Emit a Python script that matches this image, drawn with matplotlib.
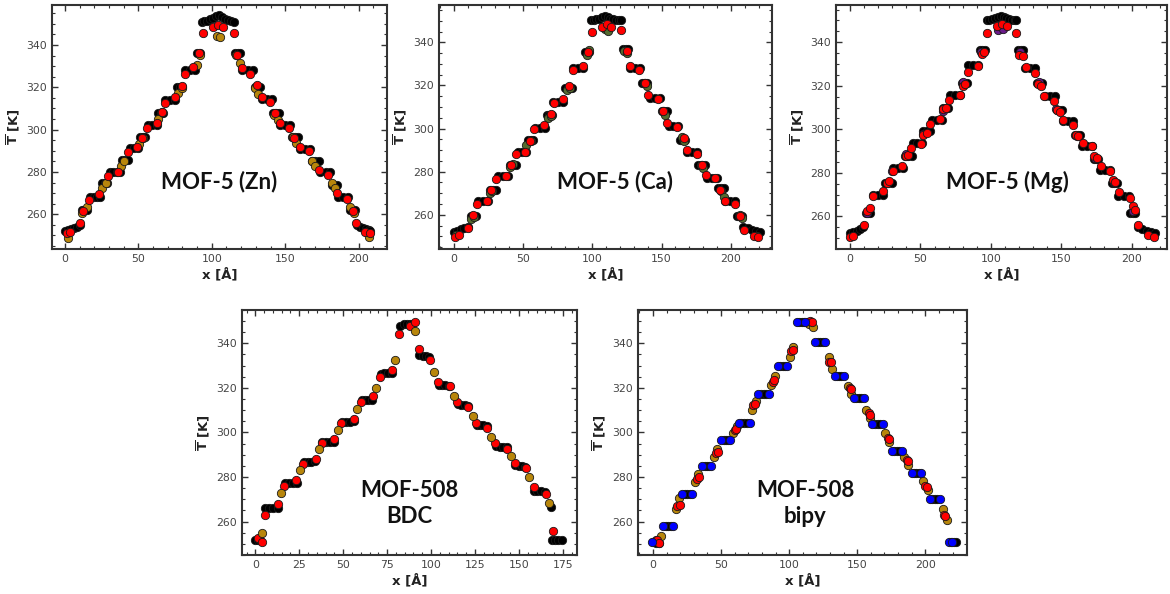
import matplotlib
matplotlib.use("Agg")
import matplotlib.pyplot as plt
from matplotlib.ticker import MultipleLocator

# ---------------- MOF-5 (Zn) ----------------
zn_black_x = [0, 2, 4, 6, 8, 10, 11.4, 13, 14.8, 17, 19.5, 22, 24, 25, 27, 28.4,
              30.7, 33, 35.5, 37.5, 38.6, 41, 43, 44.3, 47, 50, 51, 53, 54.5,
              56.8, 59.5, 62.5, 63.6, 65.5, 67, 68.2, 71.5, 75, 76, 78, 80,
              81.8, 85, 88.6, 89.8, 92,
              93, 95, 97, 99, 101, 103, 105, 107, 109, 111, 113, 115,
              116, 118, 119, 120.5, 124.5, 128.4, 129.5, 131.5, 133, 134, 137.5, 141,
              142, 144, 145.5, 146.6, 150, 153.4, 154.5, 157, 159, 160, 163.5, 167,
              168, 170.5, 172.7, 174, 177.5, 180.7, 181.8, 183.5, 185, 186, 189.5, 193,
              194, 196, 197.7, 199, 201, 203, 205, 207, 208]
zn_black_y = [252, 252.5, 253, 253.6, 254.2, 255, 262, 262, 262, 268.3, 268.3, 268.3, 268.3, 275, 275, 275,
              280.2, 280.2, 280.2, 280.2, 285.7, 285.7, 285.7, 291.2, 291.2, 291.2, 296.7, 296.7, 296.7,
              302.2, 302.2, 302.2, 307.7, 307.7, 307.7, 314, 314, 314, 320.3, 320.3, 320.3,
              328.2, 328.2, 328.2, 336, 336,
              351, 351.5, 351.5, 352.5, 352.8, 353.5, 354, 353, 352.5, 352, 351.5, 351,
              336, 336, 336, 328.2, 328.2, 328.2, 320.3, 320.3, 320.3, 314.3, 314.3, 314.3,
              307.7, 307.7, 307.7, 302.2, 302.2, 302.2, 296.7, 296.7, 296.7, 290.9, 290.9, 290.9,
              285.2, 285.2, 285.2, 279.8, 279.8, 279.8, 273.9, 273.9, 273.9, 268.3, 268.3, 268.3,
              262, 262, 262, 255, 254, 253.5, 253, 252.5, 252]
zn_red_x = [1.1, 3.4, 10.2, 12.5, 16.6, 23.4, 29.5, 36.4, 42.7, 48.9, 52.3, 55.7, 62.5, 66.4, 68.2,
            75, 79.5, 81.8, 87.5, 91.6, 94.3, 101, 104.5, 107.5, 114.8, 117.5, 120.5, 126, 130.7, 134,
            139.8, 143, 146.6, 152.3, 156, 160, 166, 172.7, 179.5, 185, 192, 196, 198.4, 204.5, 208]
zn_red_y = [251, 251.5, 255.7, 261.4, 266.8, 269.6, 278.1, 280.2, 289.6, 292, 296, 301, 303, 308.2, 312.8,
            315.6, 320.8, 326.3, 329.8, 336.4, 345.5, 348.7, 349.4, 348.7, 345.5, 335.3, 329, 326.3, 321, 315.6,
            313.2, 307.7, 303, 301, 296, 292, 290, 281, 278.6, 270, 267.2, 261.7, 256, 251.5, 251]
zn_gold_x = [2.3, 11.4, 15.2, 25, 28, 38, 40.5, 50.7, 53, 63.4, 66.4, 76.8, 79.5, 89.8, 92, 103.4,
             105.7, 116.6, 118.9, 129.5, 131.8, 142.5, 144.8, 155, 157.5, 168.2, 170.5, 181.8, 184,
             194.3, 196.6, 206.8]
zn_gold_y = [249, 260.8, 263.3, 272.3, 274.6, 283, 285.2, 293.2, 296.2, 305, 308.2, 317.2, 319.8, 330.6,
             335.3, 344.3, 343.6, 335.3, 331.3, 319.8, 316.7, 306.9, 304.6, 296.4, 293.5, 285.4, 283,
             274.6, 272.3, 263.6, 260.5, 249.1]

# ---------------- MOF-5 (Ca) ----------------
ca_black_x = [0, 2.5, 5, 7.5, 10, 12.8, 14.6, 16.4, 17.6, 21, 24.8, 26, 28.4, 30.8, 32, 35.6, 39.3,
              40.5, 43, 45.3, 46.5, 49.5, 52.5, 53.7, 55.5, 57.3, 58.6, 62.2, 65.8, 67, 68.8, 70.6,
              71.8, 75.4, 79, 80.2, 82.6, 85, 86.3, 90, 93.5, 94.7, 97.8,
              99, 101, 103, 105, 107, 109, 111, 113, 115, 117, 119, 121,
              122.4, 124, 126, 127.2, 131, 134.5, 135.7, 137.5, 139.3, 141.7, 145.3, 149,
              150, 152, 153.7, 155, 158.5, 162, 163.4, 165.2, 167, 168.2, 171.8, 175.4,
              176.6, 179, 181.4, 182.7, 186.3, 190, 191, 193, 194.7, 196, 199.5, 203,
              204.3, 206, 208, 209, 212, 215, 218, 221]
ca_black_y = [252, 252.5, 253.2, 253.8, 254.5, 259.2, 259.2, 259.2, 266.2, 266.2, 266.2, 271.6, 271.6, 271.6,
              277.8, 277.8, 277.8, 283.2, 283.2, 283.2, 289.3, 289.3, 289.3, 294.7, 294.7, 294.7,
              300.2, 300.2, 300.2, 306.3, 306.3, 306.3, 312.5, 312.5, 312.5, 318.7, 318.7, 318.7,
              328, 328, 328, 335.7, 335.7,
              350.5, 350.5, 350.8, 351, 351.5, 352, 351.5, 351, 350.8, 350.5, 350.5, 350.5,
              336.8, 336.8, 336.8, 328, 328, 328, 321, 321, 321, 314, 314, 314,
              307.9, 307.9, 307.9, 301, 301, 301, 294.7, 294.7, 294.7, 289.3, 289.3, 289.3,
              283.2, 283.2, 283.2, 277, 277, 277, 272.4, 272.4, 272.4, 266.2, 266.2, 266.2,
              259.2, 259.2, 259.2, 254.5, 253.8, 253, 252.5, 252]
ca_red_x = [0.7, 3.6, 10.4, 14, 17.1, 24.1, 27.2, 30.8, 38, 41.7, 44.8, 51.3, 55, 57.8, 65.3, 69.9,
            72.3, 79, 83.4, 85.8, 93, 97.1, 99.5, 107, 110.4, 113.5, 120.5, 124.8, 127.2, 134, 138,
            140.5, 147.7, 150.8, 154.2, 161, 165.8, 168.2, 175.4, 179, 182.2, 188.7, 192.3, 195.9,
            203.1, 206.3, 209.2, 216.4, 219.5]
ca_red_y = [249.7, 250.4, 253.8, 259.7, 265, 266.2, 271.3, 276.5, 277.8, 282.9, 288.3, 289, 294.3,
            299.8, 301.7, 306.8, 311.7, 313.7, 319.8, 327.2, 329, 335.7, 344.9, 346.9, 348.3, 347.3,
            345.7, 336.1, 329, 327.2, 321, 315.6, 313.7, 307.9, 302.5, 300.5, 295.5, 290.1, 288.3,
            283.2, 278.5, 277, 271.6, 266.5, 265, 259.2, 253.1, 250.3, 249.7]
ca_green_x = [1.5, 12.8, 15, 26, 28, 40.5, 42.5, 52.5, 55.5, 68, 70, 82, 84, 95.9, 97.5, 109, 111,
              123, 125.3, 138, 139.3, 151, 152.5, 164.5, 165.8, 178.5, 180.2, 193, 194.7, 206.5, 208, 218.8]
ca_green_y = [250.8, 258.1, 259, 270.3, 271, 282, 283.5, 292.4, 294, 304.8, 306, 317.9, 319, 334.1,
              336.5, 346, 345.4, 336, 334.9, 321, 319.5, 308, 306.3, 296, 294, 283, 281.6, 271, 268.2,
              260, 258.5, 250.3]

# ---------------- MOF-5 (Mg) ----------------
mg_black_x = [0, 2.5, 5, 7.5, 9.5, 11.4, 12.8, 14.2, 16.6, 20, 23.7, 24.9, 27.2, 29.6, 30.8, 34.3, 37.9,
              39, 41.4, 43.8, 44.5, 47.7, 50.9, 52, 54.4, 56.8, 58, 61.5, 65, 66.3, 68, 69.8,
              71, 74.5, 78, 79.3, 81, 82.8, 84, 87.5, 91, 92.3, 94, 95.9,
              97, 99, 101, 103, 105, 107, 109, 111, 113, 115, 117, 118,
              119.5, 121.2, 123, 124, 127.7, 131.4, 132.5, 134.2, 136, 138.5, 142, 145.6,
              146.7, 148.5, 150.3, 151.5, 155, 158.6, 159.8, 161.5, 163.3, 164.5, 168, 171.6,
              172.8, 174.5, 176.3, 177.5, 181, 184.6, 185.8, 187.5, 189.3, 190.5, 194.4, 198.3,
              198.8, 200.6, 202.4, 204.7, 207.5, 210.5, 213.5, 216.6]
mg_black_y = [252.5, 253, 253.5, 254.2, 255, 261.6, 261.6, 261.6, 270, 270, 270, 275.3, 275.3, 275.3,
              282.2, 282.2, 282.2, 287.6, 287.6, 287.6, 293.7, 293.7, 293.7, 299, 299, 299,
              304.4, 304.4, 304.4, 309.7, 309.7, 309.7, 315.8, 315.8, 315.8, 321.2, 321.2, 321.2,
              329.6, 329.6, 329.6, 336.5, 336.5, 336.5,
              350.2, 350.3, 350.5, 351, 351.5, 352, 351.5, 351, 350.5, 350.3, 350.2, 350,
              336.5, 336.5, 336.5, 328, 328, 328, 321.2, 321.2, 321.2, 315.1, 315.1, 315.1,
              309, 309, 309, 303.6, 303.6, 303.6, 297.5, 297.5, 297.5, 292.1, 292.1, 292.1,
              286.3, 286.3, 286.3, 281.4, 281.4, 281.4, 275.3, 275.3, 275.3, 269.2, 269.2, 269.2,
              261.6, 261.6, 261.6, 255, 254, 253.5, 253, 252.5]
mg_red_x = [0, 2.4, 9.9, 12.3, 14.2, 16.6, 23.7, 26.5, 27.9, 30.3, 36.7, 39.8, 41, 43.3, 50.4, 52,
            54.4, 56.8, 63.9, 65.8, 68.2, 70.5, 78.1, 80, 81.7, 84, 91.1, 93.5, 95.1, 97.5, 104.1,
            107.7, 111.2, 117.9, 120.2, 122.6, 125, 131.4, 133.3, 135.6, 137.8, 144.9, 146.7, 149.1,
            151.5, 158.1, 160.5, 162.1, 165.2, 171.6, 173.3, 175.1, 178, 184.6, 186.5, 188.2, 191.2,
            198.8, 200.7, 202.4, 204.7, 211.8, 215.4]
mg_red_y = [250.4, 250.9, 256.2, 262.3, 263.9, 269.2, 271.5, 275.3, 276.1, 280.7, 283.3, 287.6, 288,
            291.4, 293.4, 297.5, 298.3, 302.5, 304.8, 309.3, 309.7, 313.5, 315.7, 320, 320.7, 326.5,
            329.3, 334.5, 335.4, 344.1, 347.5, 348.4, 347.5, 344.1, 334.2, 333.7, 328.8, 325.8, 320.9,
            320, 315.1, 312.8, 309, 307.9, 304.4, 302.1, 297.5, 297, 293.7, 292.1, 287.9, 286.8, 283,
            280.7, 276.9, 275.7, 271, 268.4, 264.6, 263.1, 255.9, 251.3, 250.4]
mg_purple_x = [12, 29.5, 39.5, 52, 65.8, 80.5, 93, 105, 108.5, 121, 134, 146.5, 161, 174, 187, 200.5]
mg_purple_y = [261.5, 281, 288.5, 298, 308.5, 321.5, 335.5, 345.5, 346, 335.5, 321.5, 309.5, 297, 287,
               276, 262.5]

# ---------------- MOF-508 BDC ----------------
bdc_black_x = [0, 1.4, 2.8, 5.7, 8, 10.3, 12.7, 17, 19.2, 21.4, 23.6, 27.5, 29.7, 31.9, 34.1,
               38, 40.2, 42.4, 44.6, 49.3, 51.5, 53.8, 56, 60.7, 62.5, 64.4, 66.2, 71.5, 73.5, 75.6, 77.7,
               82.6, 84.5, 86.4, 88.3, 89.1, 93.3, 95.2, 97.1, 99, 104.3, 106.2, 108.1, 110,
               115.1, 117.2, 119.2, 121.3, 126, 127.9, 129.8, 131.7, 136.9, 139, 141.1, 143.2,
               147.9, 149.8, 151.7, 153.6, 158.3, 160.5, 162.7, 165, 168.5, 168.8, 170.6, 172.5, 174.4]
bdc_black_y = [251.8, 251.8, 251.5, 266, 266, 266, 266.3, 277.1, 277.1, 277.1, 277.3, 286.7, 286.7, 286.7, 287,
               295.5, 295.5, 295.5, 295.7, 304.8, 304.8, 304.8, 305, 314.5, 314.5, 314.5, 314.7,
               326.4, 326.6, 326.6, 326.8, 348, 348.5, 348.7, 348.8, 348.7, 334.6, 334.3, 334.2, 333.8,
               321.5, 321.3, 321.2, 321, 312.6, 312.4, 312.2, 312, 303.5, 303.3, 303.2, 303,
               293.8, 293.6, 293.5, 293.3, 285.2, 285, 284.9, 284.7, 273.9, 273.7, 273.6, 273.4,
               266.7, 251.8, 251.8, 251.7, 251.6]
bdc_red_x = [1.3, 3.8, 5.3, 12.7, 16.5, 23.1, 27.1, 34.5, 37.9, 44.8, 48.9, 56.4, 60.1, 66.7, 71.1,
             77.7, 82, 88.2, 91, 92.9, 99.5, 103.7, 110.8, 114.7, 121.3, 125.7, 132.1, 136.5, 143.2,
             147.5, 154.2, 158.3, 165.4, 169.3]
bdc_red_y = [252.5, 250.7, 263, 267.8, 276, 278.6, 285.7, 288.1, 295.3, 297, 304.4, 306, 313.8, 316.3,
             324.7, 327.9, 344, 348, 349.8, 337.3, 332.6, 322.8, 320.8, 313.5, 311.3, 304.1, 302.1,
             295.1, 292.5, 286.2, 284, 275.7, 272.4, 255.9]
bdc_gold_x = [3.8, 14.6, 25.2, 36.4, 46.8, 57.8, 68.8, 79.6, 91, 101.8, 112.8, 123.6, 134.2, 145.6,
              156, 167.2]
bdc_gold_y = [254.8, 272.7, 283.2, 292.6, 301.1, 310.4, 319.8, 332.5, 345.6, 327.3, 316.4, 307.4, 298.1,
              289.4, 279.9, 268.2]

# ---------------- MOF-508 bipy ----------------
bipy_black_x = [0.5, 2.5, 4.5, 9.5, 11.3, 13.1, 23.3, 25.2, 27, 37.9, 39.5, 41.1, 51.8, 53.4, 55,
                65, 67, 69, 79.3, 81.3, 83.2, 93.5, 95.2, 96.9, 107.3, 109.2, 111.1, 113.1,
                121, 122.8, 124.7, 135, 136.7, 138.3, 149.2, 151, 152.9, 162.8, 164.9, 166.9,
                177.3, 179.2, 181, 191.7, 193.3, 195, 205, 206.8, 208.7, 219, 221, 222.7]
bipy_black_y = [250.7, 250.6, 250.5, 258.2, 258.2, 258.2, 272.3, 272.3, 272.3, 285.1, 285.1, 285.1,
                296.6, 296.6, 296.6, 304.1, 304.1, 304.1, 317.1, 317.1, 317.1, 329.8, 329.8, 329.8,
                349.4, 349.4, 349.4, 349.4, 340.7, 340.7, 340.7, 325.3, 325.3, 325.3,
                315.3, 315.3, 315.3, 303.7, 303.7, 303.7, 291.8, 291.8, 291.8, 281.7, 281.7, 281.7,
                270.1, 270.1, 270.1, 251, 250.8, 250.7]
bipy_red_x = [3.1, 4.3, 17.8, 19.8, 32.5, 33.8, 46.5, 47.8, 59.9, 61, 73.6, 74.6, 88.4, 89.2, 101.6,
              102.5, 115.5, 116.5, 129, 130.9, 144.8, 145.6, 158.4, 159.2, 172.3, 173.2, 186.5, 187.4,
              200, 201, 213.9, 214.8]
bipy_red_y = [251.8, 250.3, 267.2, 267.5, 279.1, 279.8, 290.8, 291.2, 301, 301.6, 312.4, 313, 322.8,
              323.5, 336.4, 337, 349.9, 349.5, 331.8, 331.5, 319.8, 319.3, 308.6, 308, 297.7, 297.2,
              287.6, 287, 275.8, 275.3, 263.1, 262.5]
bipy_gold_x = [1.9, 5.6, 16.6, 19, 30.5, 33.3, 44.8, 47.2, 59, 61.4, 72.4, 75.3, 86.4, 89.4, 100.6,
               103, 114.3, 117.5, 129, 131.4, 142.9, 145.3, 156.4, 159.6, 170.6, 173, 184.6, 187.2,
               198.3, 201.8, 213, 215.8]
bipy_gold_y = [251.8, 253.7, 265.7, 270.5, 277.9, 281.5, 288.9, 292.7, 299.9, 303, 310, 313.9, 321.3,
               325.3, 334, 338.3, 348.5, 347.3, 333.7, 328.6, 321, 317.1, 310.1, 306.4, 299.6, 295.9,
               289.1, 285.4, 278.4, 274.3, 265.7, 260.8]
bipy_blue_x = [-0.5, 7.5, 15, 21.5, 28.9, 36.2, 42.8, 50.2, 56.5, 63, 71, 77.3, 85.2, 91.8, 98.6,
               105.4, 112, 119.2, 126.5, 133.4, 140, 147.4, 154.7, 160.8, 168.9, 175.5, 182.9, 190,
               196.7, 203.2, 210.5, 217.1, 219.5]
bipy_blue_y = [250.7, 258.2, 258.2, 272.3, 272.3, 285.1, 285.1, 296.6, 296.6, 304.1, 304.1, 317.1,
               317.1, 329.8, 329.8, 349.4, 349.4, 340.7, 340.7, 325.3, 325.3, 315.3, 315.3, 303.7,
               303.7, 291.8, 291.8, 281.7, 281.7, 270.1, 270.1, 251, 251]

labels = ["MOF-5 (Zn)", "MOF-5 (Ca)", "MOF-5 (Mg)", "MOF-508\nBDC", "MOF-508\nbipy"]

RED = "#ff0000"
GOLD = "#b8860b"
GREEN = "#556b2f"
PURPLE = "#6a1b8a"
BLUE = "#0000ff"
BLACK = "#000000"

fig = plt.figure(figsize=(11.70, 5.94), dpi=100)

def make_ax(rect, xlim, ylim, xmajor, xminor):
    ax = fig.add_axes(rect)
    ax.set_xlim(*xlim)
    ax.set_ylim(*ylim)
    ax.xaxis.set_major_locator(MultipleLocator(xmajor))
    ax.xaxis.set_minor_locator(MultipleLocator(xminor))
    ax.yaxis.set_major_locator(MultipleLocator(20))
    ax.yaxis.set_minor_locator(MultipleLocator(5))
    ax.tick_params(which="both", direction="in", top=True, right=True,
                   colors="#333333", labelsize=7.8, labelcolor="#444444")
    ax.tick_params(which="major", length=4.5, width=1.0)
    ax.tick_params(which="minor", length=2.4, width=0.8)
    for sp in ax.spines.values():
        sp.set_linewidth(1.5)
        sp.set_color("#333333")
    ax.set_xlabel("x [Å]", fontsize=9.5, fontweight="bold", color="#222222", labelpad=3)
    ax.set_ylabel(r"$\overline{\mathbf{T}}$ [K]", fontsize=9.5, fontweight="bold",
                  color="#222222", labelpad=3)
    return ax

def pts(ax, x, y, color, z):
    ax.scatter(x, y, s=36, c=color, edgecolors="#1a1a1a", linewidths=0.6, zorder=z)

def label(ax, text, x, y):
    ax.text(x, y, text, transform=ax.transAxes, ha="center", va="center",
            fontsize=16, fontweight="bold", family=["Lato", "DejaVu Sans"],
            color="#111111", linespacing=1.25)

# Top row
ax1 = make_ax([0.0444, 0.5808, 0.2863, 0.4108], (-8.9, 219.3), (243.6, 358.9), 50, 10)
pts(ax1, zn_black_x, zn_black_y, BLACK, 2)
pts(ax1, zn_gold_x, zn_gold_y, GOLD, 3)
pts(ax1, zn_red_x, zn_red_y, RED, 4)
label(ax1, labels[0], 0.50, 0.275)

ax2 = make_ax([0.3752, 0.5808, 0.2846, 0.4108], (-10.6, 229.6), (244.1, 357.3), 50, 10)
pts(ax2, ca_black_x, ca_black_y, BLACK, 2)
pts(ax2, ca_green_x, ca_green_y, GREEN, 3)
pts(ax2, ca_red_x, ca_red_y, RED, 4)
label(ax2, labels[1], 0.53, 0.275)

ax3 = make_ax([0.7145, 0.5808, 0.2829, 0.4108], (-9.9, 224.9), (245.0, 357.1), 50, 10)
pts(ax3, mg_black_x, mg_black_y, BLACK, 2)
pts(ax3, mg_purple_x, mg_purple_y, PURPLE, 3)
pts(ax3, mg_red_x, mg_red_y, RED, 4)
label(ax3, labels[2], 0.517, 0.275)

# Bottom row
ax4 = make_ax([0.2068, 0.0657, 0.2863, 0.4125], (-7.6, 183.0), (245.0, 355.0), 25, 5)
pts(ax4, bdc_black_x, bdc_black_y, BLACK, 2)
pts(ax4, bdc_red_x, bdc_red_y, RED, 3)
pts(ax4, bdc_gold_x, bdc_gold_y, GOLD, 4)
label(ax4, labels[3], 0.50, 0.21)

ax5 = make_ax([0.5453, 0.0657, 0.2812, 0.4125], (-11.0, 230.6), (245.0, 355.0), 50, 10)
pts(ax5, bipy_black_x, bipy_black_y, BLACK, 2)
pts(ax5, bipy_gold_x, bipy_gold_y, GOLD, 3)
pts(ax5, bipy_red_x, bipy_red_y, RED, 4)
pts(ax5, bipy_blue_x, bipy_blue_y, BLUE, 5)
label(ax5, labels[4], 0.508, 0.21)

fig.savefig("out.png", dpi=100)
